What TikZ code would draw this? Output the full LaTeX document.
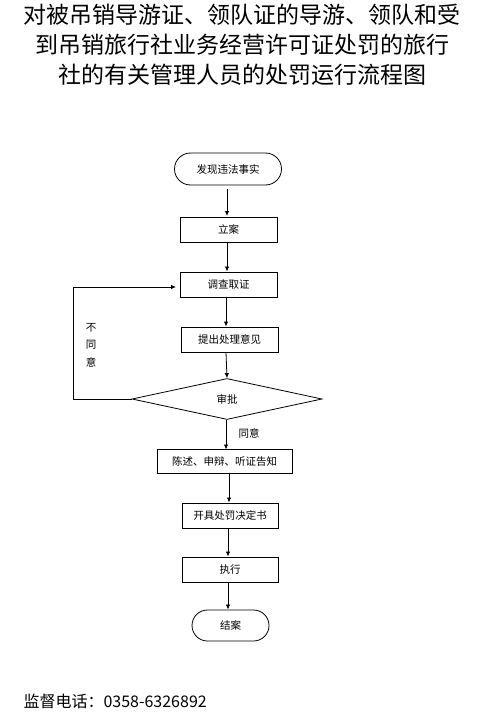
\documentclass[tikz,border=0pt]{standalone}
\usepackage{fontspec}
\setmainfont{Liberation Sans}
\newfontfamily\cjk{Noto Sans CJK SC}
\usetikzlibrary{shapes.geometric,arrows.meta}
\begin{document}
\begin{tikzpicture}[x=1pt,y=-1pt,
  every node/.style={font=\cjk\fontsize{10.5}{12}\selectfont},
  procbox/.style={draw,line width=0.8pt,minimum height=25pt,inner sep=0pt},
  termbox/.style={draw,line width=0.8pt,rounded corners=15pt,inner sep=0pt},
  decbox/.style={draw,line width=0.8pt,diamond,aspect=4.6,minimum width=190pt,minimum height=41pt,inner sep=0pt},
  conn/.style={line width=0.8pt,-{Latex[length=5pt,width=4.5pt]}},
  plain/.style={line width=0.8pt}]
\useasboundingbox (0,0) rectangle (491,722);
\fill[white] (0,0) rectangle (491,722);
% title
\node[font=\cjk\fontsize{23}{30}\selectfont,align=center] (title) at (242,45)
  {对被吊销导游证、领队证的导游、领队和受\\到吊销旅行社业务经营许可证处罚的旅行\\社的有关管理人员的处罚运行流程图};
% nodes
\node[termbox,minimum width=107pt,minimum height=32pt,rounded corners=16pt] (start) at (228,169) {发现违法事实};
\node[procbox,minimum width=97pt] (lian) at (228.5,229.5) {立案};
\node[procbox,minimum width=97pt] (diaocha) at (228.5,284.5) {调查取证};
\node[procbox,minimum width=97pt] (tichu) at (229.5,339.5) {提出处理意见};
\node[decbox] (shenpi) at (227,399) {审批};
\node[procbox,minimum width=135pt,minimum height=24pt] (chenshu) at (224.5,461.5) {陈述、申辩、听证告知};
\node[procbox,minimum width=96pt] (kaiju) at (230,515.5) {开具处罚决定书};
\node[procbox,minimum width=96pt] (zhixing) at (230,569.5) {执行};
\node[termbox,minimum width=77pt,minimum height=31pt,rounded corners=15.5pt] (jiean) at (230.5,625.5) {结案};
% labels
\node (bu) at (91,328) {不};
\node (tong) at (91,345) {同};
\node (yi) at (91,362) {意};
\node (tongyi) at (249,433) {同意};
% connectors
\coordinate (c1) at (227,189);
\draw[conn] (c1) -- (227,216);
\draw[conn] (227,242) -- (227,271.5);
\draw[conn] (diaocha.south -| 226,0) -- (226,326.5);
\draw[conn] (tichu.south -| 226,0) -- (shenpi.north);
\coordinate (loopA) at (73,399);
\coordinate (loopB) at (73,287);
\coordinate (loopC) at (176,287);
\draw[conn] (shenpi.west) -- (loopA) -- (loopB) -- (loopC);
\draw[conn] (shenpi.south -| 226,0) -- (226,449.5);
\draw[conn] (chenshu.south -| 229,0) -- (229,502.5);
\draw[conn] (kaiju.south -| 228,0) -- (228,556.5);
\draw[conn] (zhixing.south -| 228,0) -- (228,609.5);
% footer
\node[anchor=west,font=\cjk\fontsize{16}{18}\selectfont] (footer) at (20,701) {监督电话：0358-6326892};
\end{tikzpicture}
\end{document}
